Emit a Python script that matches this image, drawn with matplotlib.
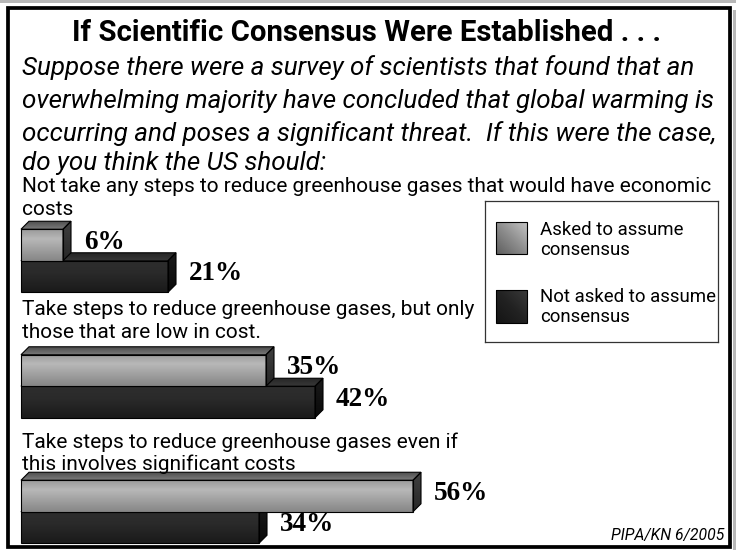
import numpy as np
import matplotlib
matplotlib.use("Agg")
import matplotlib.pyplot as plt
from matplotlib.patches import Rectangle, Polygon
from matplotlib.colors import LinearSegmentedColormap

# ---- data -------------------------------------------------------------
categories = [
    "Not take any steps to reduce greenhouse gases that would have economic\ncosts",
    "Take steps to reduce greenhouse gases, but only\nthose that are low in cost.",
    "Take steps to reduce greenhouse gases even if\nthis involves significant costs",
]
asked = [6, 35, 56]        # asked to assume consensus
not_asked = [21, 42, 34]   # not asked to assume consensus
series_names = ["Asked to assume\nconsensus", "Not asked to assume\nconsensus"]
title = "If Scientific Consensus Were Established . . ."
question = [
    "Suppose there were a survey of scientists that found that an",
    "overwhelming majority have concluded that global warming is",
    "occurring and poses a significant threat.  If this were the case,",
    "do you think the US should:",
]
source = "PIPA/KN 6/2005"

# ---- layout helpers (pixel coordinates, origin top-left) ---------------
W, H = 736, 550
fig = plt.figure(figsize=(W / 100, H / 100), dpi=100)
fig.patch.set_facecolor("white")
renderer = fig.canvas.get_renderer()

SANS = ["Liberation Sans Narrow", "Roboto", "DejaVu Sans"]
SANS_TITLE = ["Roboto", "DejaVu Sans"]
SERIF = ["Liberation Serif", "DejaVu Serif"]


def fx(x):
    return x / W


def fy(y):
    return 1 - y / H


def ftext(x, y, s, **kw):
    kw.setdefault("va", "baseline")
    kw.setdefault("family", SANS)
    return fig.text(fx(x), fy(y), s, **kw)


def fit_block(texts, ref, target_width):
    w = ref.get_window_extent(renderer).width
    scale = target_width / w
    for t in texts:
        t.set_fontsize(t.get_fontsize() * scale)


# ---- title and question -------------------------------------------------
t_title = ftext(367, 41, title, ha="center", fontweight="bold", fontsize=20,
                family=SANS_TITLE)
fit_block([t_title], t_title, 587)

q_baselines = [75, 108, 141, 170]
q_texts = [ftext(22, yb, line, style="italic", fontsize=17,
                 family=SANS_TITLE)
           for line, yb in zip(question, q_baselines)]
fit_block(q_texts, q_texts[1], 693)

# category captions
cat_baselines = [(192, 215), (315, 338), (448, 470)]
cat_texts = []
for cat, ybs in zip(categories, cat_baselines):
    for line, yb in zip(cat.split("\n"), ybs):
        cat_texts.append(ftext(22, yb, line, fontsize=14))
fit_block(cat_texts, cat_texts[0], 694)

# ---- bars ---------------------------------------------------------------
PX_PER_PCT = 7.0
UNIT = 125.5           # pixels between groups
ZERO_X = 21
FIRST_C = 245          # centre of first light bar (px)
ylim_top, ylim_bot = -0.4, 2.4
ax_top = FIRST_C + ylim_top * UNIT
ax_bot = FIRST_C + ylim_bot * UNIT
ax = fig.add_axes([fx(ZERO_X), fy(ax_bot), 100 * PX_PER_PCT / W,
                   (ax_bot - ax_top) / H])
ax.set_xlim(0, 100)
ax.set_ylim(ylim_bot, ylim_top)
ax.axis("off")

DEPTH = 8.0
dx = DEPTH / PX_PER_PCT
dy = DEPTH / UNIT
bar_h = 0.251


def vgrad(colors, n=64):
    cmap = LinearSegmentedColormap.from_list("g", colors)
    return cmap, np.linspace(0, 1, n).reshape(-1, 1)


light_front = [(0, "#9a9a9a"), (0.3, "#b8b8b8"), (1, "#868686")]
light_top = [(0, "#4e4e4e"), (1, "#7a7a7a")]
light_side = [(0, "#404040"), (1, "#262626")]
dark_front = [(0, "#2e2e2e"), (0.4, "#2a2a2a"), (1, "#1a1a1a")]
dark_top = [(0, "#262626"), (1, "#383838")]
dark_side = [(0, "#1a1a1a"), (1, "#0a0a0a")]


def grad_fill(poly, extent, stops, z):
    cmap, g = vgrad(stops)
    im = ax.imshow(g, cmap=cmap, extent=extent, origin="upper",
                   aspect="auto", interpolation="bilinear", zorder=z)
    im.set_clip_path(poly)
    im.set_clip_on(True)


def bar3d(value, yc, front, top, side, z):
    y0 = yc - bar_h / 2
    y1 = yc + bar_h / 2
    # front face
    fp = Rectangle((0, y0), value, bar_h, fc="none", ec="black", lw=0.8,
                   zorder=z + 0.5, clip_on=False)
    ax.add_patch(fp)
    grad_fill(fp, (0, value, y1, y0), front, z)
    # top face
    tp = Polygon([(0, y0), (value, y0), (value + dx, y0 - dy), (dx, y0 - dy)],
                 closed=True, fc="none", ec="black", lw=0.8, zorder=z + 0.5,
                 clip_on=False)
    ax.add_patch(tp)
    grad_fill(tp, (0, value + dx, y0, y0 - dy), top, z)
    # side face
    sp = Polygon([(value, y0), (value + dx, y0 - dy), (value + dx, y1 - dy),
                  (value, y1)], closed=True, fc="none", ec="black", lw=0.8,
                 zorder=z + 0.5, clip_on=False)
    ax.add_patch(sp)
    grad_fill(sp, (value, value + dx, y1, y0 - dy), side, z)


def value_label(value, yc):
    ax.annotate(f"{value}%", xy=(value, yc), xytext=(21, -3.5),
                textcoords="offset pixels", ha="left", va="baseline",
                family=SERIF, fontweight="bold", fontsize=19.5,
                annotation_clip=False, zorder=20)


for i, (a, n) in enumerate(zip(asked, not_asked)):
    yc_light = i
    yc_dark = i + bar_h
    z = 2 + 4 * i
    bar3d(n, yc_dark, dark_front, dark_top, dark_side, z)
    bar3d(a, yc_light, light_front, light_top, light_side, z + 2)
    value_label(a, yc_light)
    value_label(n, yc_dark)

ax.set_xlim(0, 100)
ax.set_ylim(ylim_bot, ylim_top)

# ---- legend -------------------------------------------------------------
LX0, LY0, LX1, LY1 = 485, 201, 718, 342
lax = fig.add_axes([fx(LX0), fy(LY1), (LX1 - LX0) / W, (LY1 - LY0) / H])
lax.set_xlim(0, LX1 - LX0)
lax.set_ylim(LY1 - LY0, 0)
lax.set_xticks([])
lax.set_yticks([])
for sp_ in lax.spines.values():
    sp_.set_linewidth(0.9)
    sp_.set_color("#333333")

swatch_rows = [(21, 53), (89, 122)]
swatch_stops = [["#5e5e5e", "#8e8e8e", "#c4c4c4"],
                ["#141414", "#222222", "#3a3a3a"]]
for (sy0, sy1), stops in zip(swatch_rows, swatch_stops):
    cmap = LinearSegmentedColormap.from_list("s", stops)
    xx, yy = np.meshgrid(np.linspace(0, 1, 48), np.linspace(1, 0, 48))
    lax.imshow((xx + yy) / 2, cmap=cmap, extent=(11, 42, sy1, sy0),
               origin="upper", aspect="auto", interpolation="bilinear")
    lax.add_patch(Rectangle((11, sy0), 31, sy1 - sy0, fc="none",
                            ec="black", lw=0.8))
lax.set_xlim(0, LX1 - LX0)
lax.set_ylim(LY1 - LY0, 0)

leg_baselines = [(235, 255), (302, 322)]
leg_texts = []
for name, ybs in zip(series_names, leg_baselines):
    for line, yb in zip(name.split("\n"), ybs):
        leg_texts.append(ftext(540, yb, line, fontsize=12))
fit_block(leg_texts, leg_texts[2], 176)

# ---- source note --------------------------------------------------------
t_src = ftext(724, 540, source, ha="right", style="italic", fontsize=9)
fit_block([t_src], t_src, 114)

# ---- outer frame --------------------------------------------------------
fig.patches.append(Rectangle((0, fy(2.5)), 1, 2.5 / H,
                             transform=fig.transFigure, fc="#b8b8b8",
                             ec="none", zorder=0))
fig.patches.append(Rectangle((fx(733), 0), 3 / W, fy(10),
                             transform=fig.transFigure, fc="#b8b8b8",
                             ec="none", zorder=0))
fig.patches.append(Rectangle((fx(8), fy(547)), (730 - 8) / W, (547 - 7.5) / H,
                             transform=fig.transFigure, fill=False,
                             ec="black", lw=2.7, zorder=30))

fig.savefig("out.png", dpi=100, facecolor="white")
